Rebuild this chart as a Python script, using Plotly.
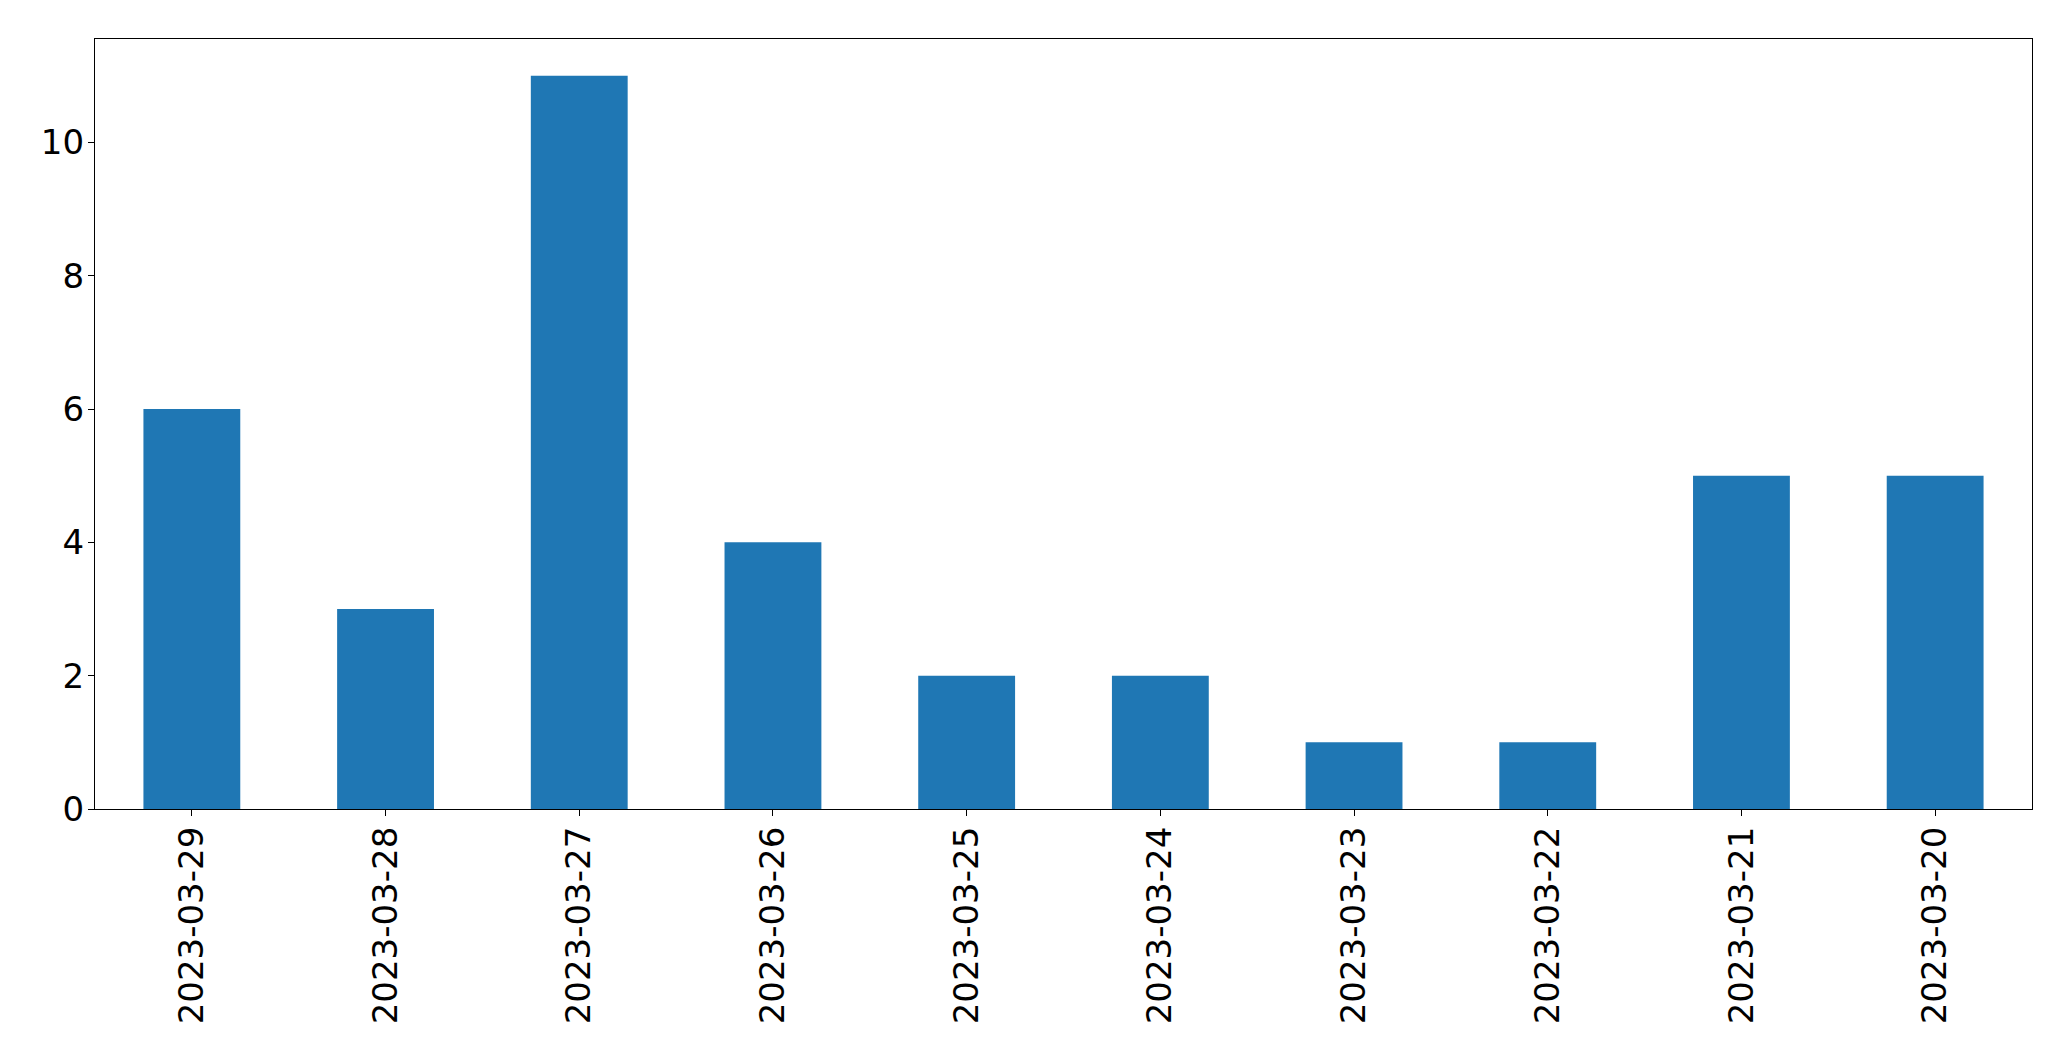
import plotly.graph_objects as go

categories = ["2023-03-29", "2023-03-28", "2023-03-27", "2023-03-26", "2023-03-25",
              "2023-03-24", "2023-03-23", "2023-03-22", "2023-03-21", "2023-03-20"]
values = [6, 3, 11, 4, 2, 2, 1, 1, 5, 5]
y_ticks = [0, 2, 4, 6, 8, 10]

fig = go.Figure(go.Bar(x=categories, y=values, marker=dict(color="#1f77b4", line=dict(width=0)), width=0.5))

font = dict(family="DejaVu Sans", size=34, color="black")
fig.update_layout(
    width=2063, height=1053,
    margin=dict(l=87, r=39, t=31, b=252),
    paper_bgcolor="white", plot_bgcolor="white",
    showlegend=False,
    font=font,
)
fig.update_xaxes(
    type="category", categoryorder="array", categoryarray=categories,
    range=[-0.5, 9.5], tickangle=-90, showline=True, linecolor="black", linewidth=1.3,
    mirror=True, ticks="outside", ticklen=6, tickwidth=1.3, tickcolor="black",
    showgrid=False, tickfont=font, ticklabelstandoff=-3,
)
fig.update_yaxes(
    range=[0, 11.55], tickvals=y_ticks, showline=True, linecolor="black", linewidth=1.3,
    mirror=True, ticks="outside", ticklen=6, tickwidth=1.3, tickcolor="black",
    showgrid=False, zeroline=False, tickfont=font, ticklabelstandoff=-3,
)
fig.write_html("out.html")
